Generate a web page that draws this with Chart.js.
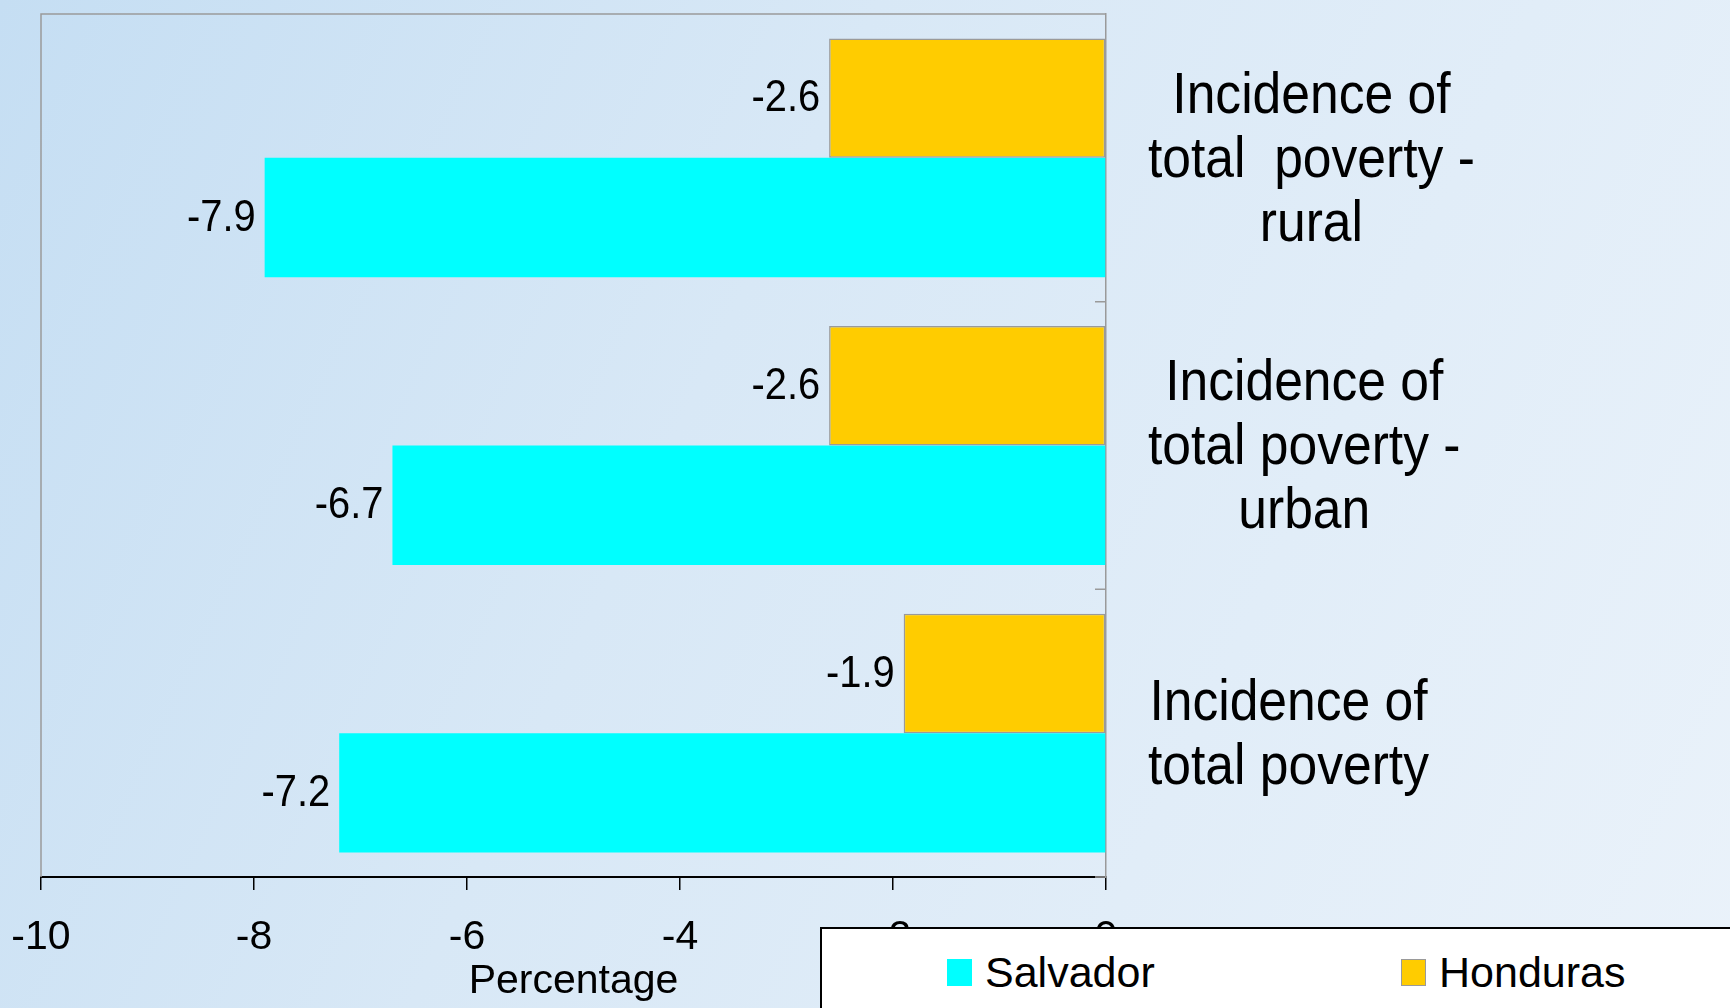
<!DOCTYPE html>
<html>
<head>
<meta charset="utf-8">
<title>Poverty incidence change</title>
<script src="https://cdn.jsdelivr.net/npm/chart.js@4"></script>
<style>
    html, body { margin: 0; padding: 0; }
    body {
        width: 1730px;
        height: 1008px;
        overflow: hidden;
        position: relative;
        font-family: "Liberation Sans", Arial, sans-serif;
        background: linear-gradient(115deg, #c5def3 0%, #d8e8f6 40%, #eaf2fa 100%);
    }
    #chart { position: absolute; left: 0; top: 0; }
    #legend {
        position: absolute;
        left: 820px;
        top: 927px;
        width: 1000px;
        height: 200px;
        background: #fff;
        border: 2px solid #000;
        box-sizing: border-box;
    }
    .item {
        position: absolute;
        top: 19px;
        height: 48px;
        display: flex;
        align-items: center;
        font-size: 43px;
        line-height: 48px;
        color: #000;
    }
    .swatch { width: 25px; height: 27px; margin-right: 13px; box-sizing: border-box; }
</style>
</head>
<body>
<canvas id="chart" width="1730" height="1008"></canvas>
<div id="legend"></div>

<script>
// Chart data
const categories = [
    ['Incidence of', 'total  poverty -', 'rural'],
    ['Incidence of', 'total poverty -', 'urban'],
    ['Incidence of', 'total poverty']
];
const seriesNames = ['Salvador', 'Honduras'];
const salvadorValues = [-7.9, -6.7, -7.2];
const hondurasValues = [-2.6, -2.6, -1.9];
const xTicks = [-10, -8, -6, -4, -2, 0];
const axisTitle = 'Percentage';

const FONT = '"Liberation Sans", Arial, sans-serif';
const colors = { Salvador: '#00ffff', Honduras: '#ffcc00' };
const borders = { Salvador: 'rgba(0,0,0,0)', Honduras: '#9a9a9a' };
const SQUEEZE = 0.905;   // the original text is a bit narrow

Chart.defaults.font.family = FONT;

// Frame (top / left border) and little inner ticks on the right axis
const framePlugin = {
    id: 'frame',
    beforeDatasetsDraw(chart) {
        const { ctx, chartArea: a, scales: { y } } = chart;
        ctx.save();
        ctx.strokeStyle = '#9a9a9a';
        ctx.lineWidth = 1.5;
        ctx.beginPath();
        ctx.moveTo(a.left, a.bottom);
        ctx.lineTo(a.left, a.top);
        ctx.lineTo(a.right, a.top);
        for (let i = 0; i <= categories.length; i++) {
            const py = y.getPixelForValue(i - 0.5);
            ctx.moveTo(a.right - 11, py);
            ctx.lineTo(a.right, py);
        }
        ctx.stroke();
        ctx.restore();
    }
};

function squeezedText(ctx, text, x, y) {
    ctx.save();
    ctx.translate(x, y);
    ctx.scale(SQUEEZE, 1);
    ctx.fillText(text, 0, 0);
    ctx.restore();
}

// Value labels left of each bar end
const valueLabelPlugin = {
    id: 'valueLabels',
    afterDatasetsDraw(chart) {
        const { ctx } = chart;
        ctx.save();
        ctx.font = '44px ' + FONT;
        ctx.fillStyle = '#000';
        ctx.textAlign = 'right';
        ctx.textBaseline = 'middle';
        chart.data.datasets.forEach((ds, di) => {
            chart.getDatasetMeta(di).data.forEach((bar, j) => {
                squeezedText(ctx, ds.data[j].toFixed(1), bar.x - 9, bar.y + 1);
            });
        });
        ctx.restore();
    }
};

// Category labels right of the plot, centred line by line
const categoryLabelPlugin = {
    id: 'categoryLabels',
    afterDraw(chart) {
        const { ctx, chartArea: a, scales: { y } } = chart;
        ctx.save();
        ctx.font = '57px ' + FONT;
        ctx.fillStyle = '#000';
        ctx.textAlign = 'center';
        ctx.textBaseline = 'middle';
        categories.forEach((lines, i) => {
            const widest = Math.max(...lines.map(t => ctx.measureText(t).width)) * SQUEEZE;
            const cx = a.right + 42 + widest / 2;
            const cy = y.getPixelForValue(i) + 3;
            lines.forEach((t, k) => {
                squeezedText(ctx, t, cx, cy + (k - (lines.length - 1) / 2) * 64);
            });
        });
        ctx.restore();
    }
};

new Chart(document.getElementById('chart'), {
    type: 'bar',
    data: {
        labels: categories,
        datasets: [
            {
                label: 'Honduras',
                data: hondurasValues,
                backgroundColor: colors.Honduras,
                borderColor: borders.Honduras,
                borderWidth: 1.5,
                borderSkipped: false
            },
            {
                label: 'Salvador',
                data: salvadorValues,
                backgroundColor: colors.Salvador,
                borderWidth: 0
            }
        ]
    },
    options: {
        indexAxis: 'y',
        responsive: false,
        animation: false,
        layout: { padding: { left: 41, top: 14, right: 0, bottom: 0 } },
        datasets: { bar: { categoryPercentage: 0.83, barPercentage: 1 } },
        plugins: {
            legend: { display: false },
            tooltip: { enabled: false }
        },
        scales: {
            x: {
                min: -10,
                max: 0,
                afterBuildTicks: s => { s.ticks = xTicks.map(v => ({ value: v })); },
                afterFit: s => { s.height = 131; s.paddingLeft = 0; s.paddingRight = 0; },
                grid: { drawOnChartArea: false, drawTicks: true, tickLength: 13, color: '#000', lineWidth: 1.5 },
                border: { color: '#000', width: 2 },
                ticks: { color: '#000', font: { size: 41 }, padding: 23, maxRotation: 0, autoSkip: false },
                title: { display: true, text: axisTitle, color: '#000', font: { size: 41 }, padding: { top: 0, bottom: 2 } }
            },
            y: {
                position: 'right',
                afterFit: s => { s.width = 624; },
                ticks: { display: false },
                grid: { display: true, drawOnChartArea: false, drawTicks: false },
                border: { color: '#9a9a9a', width: 1.5 }
            }
        }
    },
    plugins: [framePlugin, valueLabelPlugin, categoryLabelPlugin]
});

// Legend box (sits over the last tick labels, like the original)
const legendPos = { Salvador: 125, Honduras: 579 };
document.getElementById('legend').innerHTML = seriesNames.map(name => `
    <div class="item" style="left:${legendPos[name]}px">
        <span class="swatch" style="background:${colors[name]};${name === 'Honduras' ? 'border:1.5px solid ' + borders.Honduras + ';' : ''}"></span>
        <span>${name}</span>
    </div>
`).join('');
</script>
</body>
</html>
